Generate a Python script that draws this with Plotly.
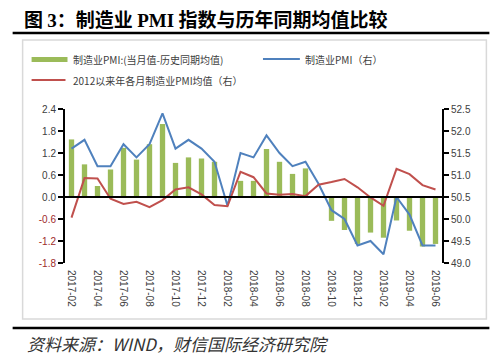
import plotly.graph_objects as go

months = ["2017-02", "2017-03", "2017-04", "2017-05", "2017-06", "2017-07", "2017-08",
          "2017-09", "2017-10", "2017-11", "2017-12", "2018-01", "2018-02", "2018-03",
          "2018-04", "2018-05", "2018-06", "2018-07", "2018-08", "2018-09", "2018-10",
          "2018-11", "2018-12", "2019-01", "2019-02", "2019-03", "2019-04", "2019-05",
          "2019-06"]
diff = [1.57, 0.89, 0.30, 0.75, 1.34, 1.02, 1.44, 1.99, 0.93, 1.08, 1.05, 0.96, 0.0,
        0.44, 0.44, 1.31, 0.96, 0.63, 0.78, 0.0, -0.65, -0.90, -1.28, -0.97, -1.11,
        -0.64, -0.92, -1.35, -1.28]
pmi = [51.6, 51.8, 51.2, 51.2, 51.7, 51.4, 51.7, 52.4, 51.6, 51.8, 51.6, 51.3, 50.3,
       51.5, 51.4, 51.9, 51.5, 51.2, 51.3, 50.8, 50.2, 50.0, 49.4, 49.5, 49.2, 50.5,
       50.1, 49.4, 49.4]
avg = [50.03, 50.93, 50.92, 50.46, 50.34, 50.39, 50.27, 50.43, 50.67, 50.72, 50.56,
       50.32, 50.29, 51.07, 50.95, 50.58, 50.55, 50.57, 50.52, 50.78, 50.84, 50.91,
       50.72, 50.49, 50.30, 51.14, 51.02, 50.77, 50.67]
x_ticks = ["2017-02", "2017-04", "2017-06", "2017-08", "2017-10", "2017-12", "2018-02",
           "2018-04", "2018-06", "2018-08", "2018-10", "2018-12", "2019-02", "2019-04",
           "2019-06"]
left_ticks = [-1.8, -1.2, -0.6, 0.0, 0.6, 1.2, 1.8, 2.4]
right_ticks = [49.0, 49.5, 50.0, 50.5, 51.0, 51.5, 52.0, 52.5]

name_bar = "制造业PMI:(当月值-历史同期均值)"
name_pmi = "制造业PMI（右）"
name_avg = "2012以来年各月制造业PMI均值（右）"

GREEN = "#9BBB59"
BLUE = "#4F81BD"
RED = "#C0504D"
NEG = "#9E2A2B"
TXT = "#404040"

W, H = 500, 357
PL, PR, PT, PB = 64.5, 442.5, 109, 263


def px(x):
    return (x - PL) / (PR - PL)


def py(y):
    return (PB - y) / (PB - PT)


fig = go.Figure()
fig.add_trace(go.Bar(x=months, y=diff, name=name_bar, marker_color=GREEN,
                     marker_line_width=0, yaxis="y"))
fig.add_trace(go.Scatter(x=months, y=pmi, name=name_pmi, mode="lines",
                         line=dict(color=BLUE, width=2), yaxis="y2"))
fig.add_trace(go.Scatter(x=months, y=avg, name=name_avg, mode="lines",
                         line=dict(color=RED, width=2), yaxis="y2"))

left_text = []
for v in left_ticks:
    s = f"{v:.1f}"
    if v < 0:
        s = f'<span style="color:{NEG}">{s}</span>'
    left_text.append(s)

fig.update_layout(
    width=W, height=H,
    margin=dict(l=PL, r=W - PR, t=PT, b=H - PB, pad=0),
    paper_bgcolor="white", plot_bgcolor="white",
    showlegend=False,
    bargap=0.59,
    font=dict(family="Liberation Sans, Arial", size=10, color=TXT),
    xaxis=dict(type="category", tickmode="array", tickvals=x_ticks, ticktext=x_ticks,
               tickangle=90, showgrid=False, showline=False, ticks="",
               ticklabelstandoff=6,
               tickfont=dict(size=10, color=TXT), range=[-0.5, 28.5]),
    yaxis=dict(range=[-1.8, 2.4], tickmode="array", tickvals=left_ticks,
               ticktext=left_text, showgrid=False, showline=True, linecolor="black",
               linewidth=2, ticks="outside", ticklen=5, tickwidth=2, tickcolor="black",
               zeroline=False, tickfont=dict(size=10, color=TXT)),
    yaxis2=dict(range=[49.0, 52.5], overlaying="y", side="right", tickmode="array",
                tickvals=right_ticks, ticktext=[f"{v:.1f}" for v in right_ticks],
                showgrid=False, showline=True, linecolor="black", linewidth=2,
                ticks="outside", ticklen=5, tickwidth=2, tickcolor="black",
                zeroline=False, tickfont=dict(size=10, color=TXT)),
)

shapes = []
# zero line
shapes.append(dict(type="line", xref="paper", yref="y", x0=0, x1=1, y0=0, y1=0,
                   line=dict(color="black", width=2), layer="above"))
# chart frame
shapes.append(dict(type="rect", xref="paper", yref="paper", x0=px(22), x1=px(487),
                   y0=py(319), y1=py(40), line=dict(color="#D9D9D9", width=1.5),
                   layer="below"))
# title underline
shapes.append(dict(type="line", xref="paper", yref="paper", x0=px(12), x1=px(490),
                   y0=py(33), y1=py(33), line=dict(color="black", width=2.5)))
# footer line
shapes.append(dict(type="line", xref="paper", yref="paper", x0=px(12), x1=px(490),
                   y0=py(328), y1=py(328), line=dict(color="black", width=2.5)))
# legend swatches
shapes.append(dict(type="rect", xref="paper", yref="paper", x0=px(31), x1=px(67),
                   y0=py(62), y1=py(57), fillcolor=GREEN, line=dict(width=0)))
shapes.append(dict(type="line", xref="paper", yref="paper", x0=px(263), x1=px(300),
                   y0=py(59), y1=py(59), line=dict(color=BLUE, width=2)))
shapes.append(dict(type="line", xref="paper", yref="paper", x0=px(31), x1=px(65),
                   y0=py(80), y1=py(80), line=dict(color=RED, width=2)))
fig.update_layout(shapes=shapes)

CJK = "Noto Sans CJK SC"
ann = []
ann.append(dict(xref="paper", yref="paper", x=px(71), y=py(59), text=name_bar,
                showarrow=False, xanchor="left", yanchor="middle",
                font=dict(family=CJK, size=10, color=TXT)))
ann.append(dict(xref="paper", yref="paper", x=px(303), y=py(59), text=name_pmi,
                showarrow=False, xanchor="left", yanchor="middle",
                font=dict(family=CJK, size=10, color=TXT)))
ann.append(dict(xref="paper", yref="paper", x=px(71), y=py(80), text=name_avg,
                showarrow=False, xanchor="left", yanchor="middle",
                font=dict(family=CJK, size=10, color=TXT)))
title = ('图 <span style="font-family:Liberation Serif">3</span>：制造业 '
         '<span style="font-family:Liberation Serif">PMI</span> 指数与历年同期均值比较')
ann.append(dict(xref="paper", yref="paper", x=px(21), y=py(19), text="<b>" + title + "</b>",
                showarrow=False, xanchor="left", yanchor="middle",
                font=dict(family=CJK, size=19, color="black")))
ann.append(dict(xref="paper", yref="paper", x=px(24), y=py(343),
                text="<i>资料来源：WIND，财信国际经济研究院</i>",
                showarrow=False, xanchor="left", yanchor="middle",
                font=dict(family=CJK, size=17, color="#333333")))
fig.update_layout(annotations=ann)

fig.write_html("out.html", config={"displayModeBar": False},
               post_script="document.body.style.margin='0';"
                           "document.body.style.overflow='hidden';")
